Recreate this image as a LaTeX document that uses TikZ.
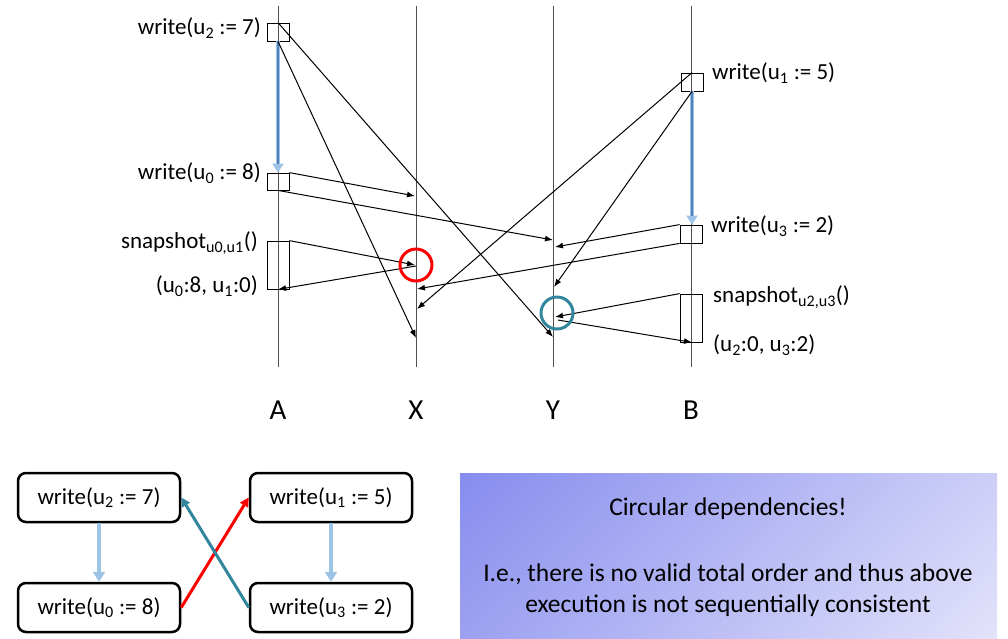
\documentclass[tikz,border=0pt]{standalone}
\usepackage{fontspec}
\setmainfont{Carlito}
\usetikzlibrary{arrows.meta}
\definecolor{lblue}{HTML}{9DC3E6}
\definecolor{dblue}{HTML}{4F81BD}
\definecolor{teal2}{HTML}{31859C}
\definecolor{life}{HTML}{505050}
\definecolor{gradA}{HTML}{878DEE}
\definecolor{gradB}{HTML}{E2E2FA}
\pgfdeclareverticalshading{diagshade}{100bp}{color(0bp)=(gradB); color(15bp)=(gradB); color(85bp)=(gradA); color(100bp)=(gradA)}
\tikzset{
  msg/.style={draw=black,line width=1pt,-{Latex[length=8pt,width=6pt]}},
  opbox/.style={draw=black,line width=0.8pt,rectangle,minimum width=22pt,inner sep=0pt},
  lifeline/.style={draw=life,line width=1pt},
  lbl/.style={inner sep=0pt,font=\fontsize{23}{27}\selectfont},
  concl/.style={inner sep=0pt,align=center,font=\fontsize{25.5}{31}\selectfont},
  proc/.style={inner sep=0pt,font=\fontsize{29}{34}\selectfont},
  wbox/.style={draw=black,line width=2.5pt,rounded corners=8pt,minimum width=162pt,minimum height=49pt,inner sep=0pt,font=\fontsize{23}{27}\selectfont},
  porder/.style={draw=lblue,line width=4pt,-{Triangle[length=10pt,width=12pt]}},
  ring/.style={draw,line width=3pt,circle,minimum size=32pt,inner sep=0pt},
}
\begin{document}
\begin{tikzpicture}[x=1pt,y=-1pt]
\useasboundingbox (0,0) rectangle (1008,638);
% lifelines
\coordinate (Atop) at (278,6); \coordinate (Abot) at (278,367);
\coordinate (Xtop) at (416,6); \coordinate (Xbot) at (416,367);
\coordinate (Ytop) at (553,6); \coordinate (Ybot) at (553,367);
\coordinate (Btop) at (691,6); \coordinate (Bbot) at (691,367);
\draw[lifeline] (Atop) -- (Abot);
\draw[lifeline] (Xtop) -- (Xbot);
\draw[lifeline] (Ytop) -- (Ybot);
\draw[lifeline] (Btop) -- (Bbot);
\node[proc] (lA) at (278,410) {A};
\node[proc] (lX) at (416,410) {X};
\node[proc] (lY) at (553,410) {Y};
\node[proc] (lB) at (691,410) {B};
% operation boxes
\node[opbox,minimum height=18pt] (wA1) at (278,32) {};
\node[opbox,minimum height=17pt] (wA2) at (278,181.5) {};
\node[opbox,minimum height=48pt] (sA) at (278,265) {};
\node[opbox,minimum height=18pt] (wB1) at (692,82) {};
\node[opbox,minimum height=18pt] (wB2) at (691,234) {};
\node[opbox,minimum height=48pt] (sB) at (691,318) {};
% labels
\node[lbl,anchor=east] (t1) at (261,28) {write(u\textsubscript{2} := 7)};
\node[lbl,anchor=east] (t2) at (261,173) {write(u\textsubscript{0} := 8)};
\node[lbl,anchor=east] (t3) at (258,243) {snapshot\textsubscript{u0,u1}()};
\node[lbl,anchor=east] (t4) at (258,286) {(u\textsubscript{0}:8, u\textsubscript{1}:0)};
\node[lbl,anchor=west] (t5) at (712,73) {write(u\textsubscript{1} := 5)};
\node[lbl,anchor=west] (t6) at (711,226) {write(u\textsubscript{3} := 2)};
\node[lbl,anchor=west] (t7) at (713,297) {snapshot\textsubscript{u2,u3}()};
\node[lbl,anchor=west] (t8) at (713,345) {(u\textsubscript{2}:0, u\textsubscript{3}:2)};
% program order arrows (top)
\draw[draw=lblue,line width=4pt,-{Triangle[length=9pt,width=11pt]}] (wA1.south) -- (wA2.north);
\draw[draw=dblue,line width=1.4pt,shorten >=9pt] (wA1.south) -- (wA2.north);
\draw[draw=lblue,line width=4pt,-{Triangle[length=9pt,width=11pt]}] (wB1.south) -- ([xshift=1pt]wB2.north);
\draw[draw=dblue,line width=1.4pt,shorten >=9pt] (wB1.south) -- ([xshift=1pt]wB2.north);
% message endpoints
\coordinate (e1) at (416,338);
\coordinate (e2) at (553,337);
\coordinate (e3) at (415,196);
\coordinate (e4) at (553,240);
\coordinate (e5) at (415,265);
\coordinate (e6s) at (416,266);
\coordinate (e7) at (417,309);
\coordinate (e8) at (554,287);
\coordinate (e9) at (555,247);
\coordinate (e10) at (417,289);
\coordinate (e11) at (555,317);
\coordinate (e12s) at (558,320);
% messages
\draw[msg] (wA1.south) -- (e1);
\draw[msg] (wA1.north) -- (e2);
\draw[msg] (wA2.north east) -- (e3);
\draw[msg] (wA2.south) -- (e4);
\draw[msg] (sA.north east) -- (e5);
\draw[msg] (e6s) -- (sA.south);
\draw[msg] (wB1.north) -- (e7);
\draw[msg] (wB1.south) -- (e8);
\draw[msg] (wB2.north west) -- (e9);
\draw[msg] (wB2.south west) -- (e10);
\draw[msg] (sB.north west) -- (e11);
\draw[msg] (e12s) -- ([xshift=1pt]sB.south);
% circles
\node[ring,draw=red] (c1) at (416,265) {};
\node[ring,draw=teal2] (c2) at (557,313) {};
% bottom graph
\node[wbox] (b1) at (99,497.5) {write(u\textsubscript{2} := 7)};
\node[wbox] (b2) at (99,607.5) {write(u\textsubscript{0} := 8)};
\node[wbox] (b3) at (331,497.5) {write(u\textsubscript{1} := 5)};
\node[wbox] (b4) at (331,607.5) {write(u\textsubscript{3} := 2)};
\draw[porder] (b1.south) -- (b2.north);
\draw[porder] (b3.south) -- (b4.north);
\draw[draw=red,line width=3pt,-{Triangle[length=9pt,width=9pt]}] (b2.east) -- (b3.west);
\draw[draw=teal2,line width=3pt,-{Triangle[length=9pt,width=9pt]}] (b4.west) -- (b1.east);
% conclusion box
\shade[shading=diagshade,shading angle=45] (460,473) rectangle (997,638);
\node[concl] (n1) at (728,509) {Circular dependencies!};
\node[concl] (n2) at (728,590) {I.e., there is no valid total order and thus above\\execution is not sequentially consistent};
\end{tikzpicture}
\end{document}
